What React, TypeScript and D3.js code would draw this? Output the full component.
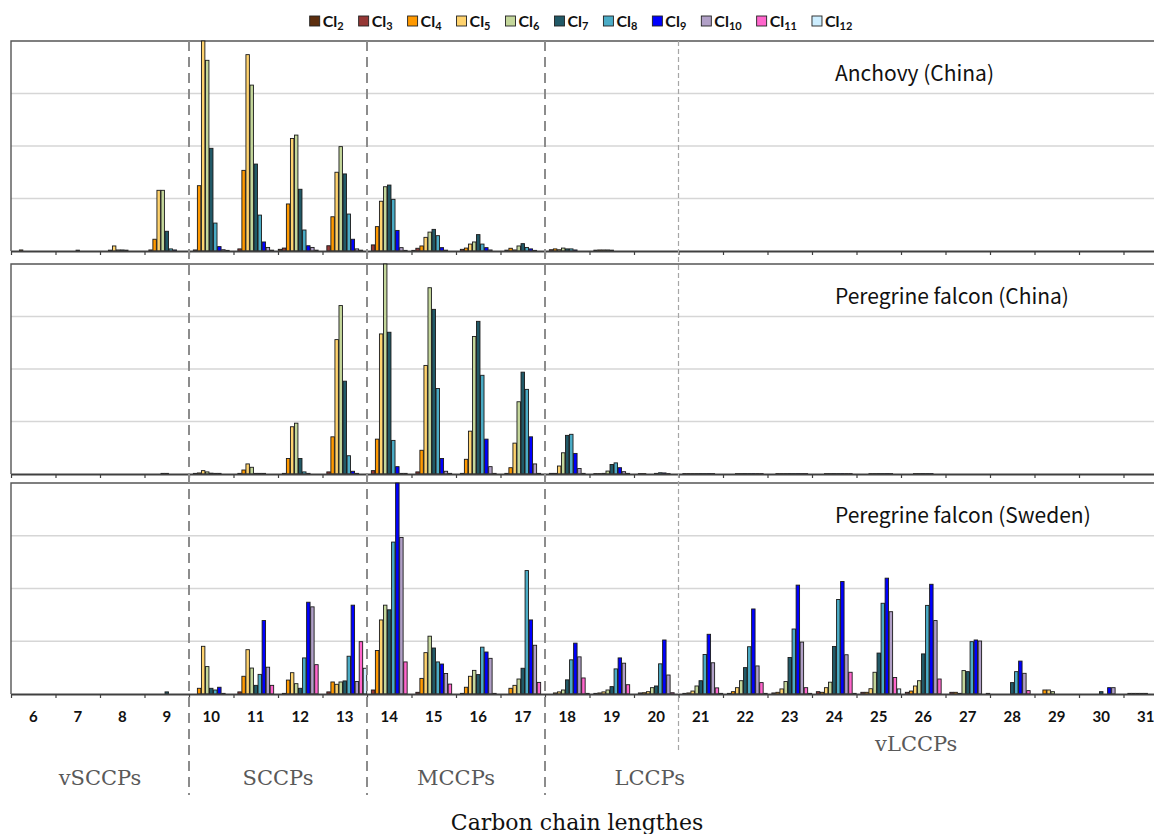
import React, { useRef, useEffect } from 'react';
import * as d3 from 'd3';

// carbon chain lengths (x categories)
const categories = ['6', '7', '8', '9', '10', '11', '12', '13', '14', '15', '16', '17', '18',
    '19', '20', '21', '22', '23', '24', '25', '26', '27', '28', '29', '30', '31'];

// chlorine homologue groups
const chlorineKeys = ['Cl2', 'Cl3', 'Cl4', 'Cl5', 'Cl6', 'Cl7', 'Cl8', 'Cl9', 'Cl10', 'Cl11', 'Cl12'];
const chlorineSubs = ['2', '3', '4', '5', '6', '7', '8', '9', '10', '11', '12'];
const chlorineColors = ['#5c2e0e', '#953735', '#ff9900', '#ffd36e', '#c4d79b', '#215967',
    '#4bacc6', '#0000ff', '#b1a0c7', '#ff66cc', '#cdeeff'];

// relative abundance (% of panel max), one row per carbon length, columns Cl2..Cl12
const anchovyChina = [
    [0, 0, 0.5, 0, 0, 0, 0, 0, 0, 0, 0],
    [0, 0, 0, 0, 0, 0.4, 0, 0, 0, 0, 0],
    [0, 0, 0.4, 2.4, 0.5, 0.5, 0.4, 0, 0, 0, 0],
    [0, 0.5, 5.6, 28.9, 28.9, 9.4, 1, 0.5, 0, 0, 0],
    [0, 0.5, 31.1, 100, 90.8, 48.9, 13.3, 2.1, 0.6, 0.3, 0],
    [0, 1, 38.4, 93.5, 79, 41.4, 17.1, 4.3, 1.7, 0.4, 0],
    [0.8, 1.4, 22.4, 53.6, 55.2, 29.4, 10, 2.5, 1.7, 0.4, 0],
    [0, 2.5, 16.3, 37.5, 49.7, 36.7, 17.6, 5.6, 1, 0.4, 0],
    [0, 2.9, 11.6, 23.7, 30.6, 31.4, 24.6, 9.8, 1.6, 0.3, 0],
    [0.3, 1.3, 2.4, 6.5, 9, 10.3, 7.3, 1.6, 0.4, 0, 0],
    [0, 0.8, 1.4, 3.3, 4.3, 7.8, 3.3, 1.6, 0.5, 0, 0],
    [0, 0.4, 1.3, 0.5, 2.4, 3.5, 1.7, 1, 0.3, 0, 0],
    [0, 0.6, 1, 0.6, 1.4, 1, 1, 0.5, 0, 0, 0],
    [0, 0.4, 0.5, 0.5, 0.5, 0.4, 0, 0, 0, 0, 0],
    [0, 0, 0, 0, 0, 0, 0, 0, 0, 0, 0],
    [0, 0, 0, 0, 0, 0, 0, 0, 0, 0, 0],
    [0, 0, 0, 0, 0, 0, 0, 0, 0, 0, 0],
    [0, 0, 0, 0, 0, 0, 0, 0, 0, 0, 0],
    [0, 0, 0, 0, 0, 0, 0, 0, 0, 0, 0],
    [0, 0, 0, 0, 0, 0, 0, 0, 0, 0, 0],
    [0, 0, 0, 0, 0, 0, 0, 0, 0, 0, 0],
    [0, 0, 0, 0, 0, 0, 0, 0, 0, 0, 0],
    [0, 0, 0, 0, 0, 0, 0, 0, 0, 0, 0],
    [0, 0, 0, 0, 0, 0, 0, 0, 0, 0, 0],
    [0, 0, 0, 0, 0, 0, 0, 0, 0, 0, 0],
    [0, 0, 0, 0, 0, 0, 0, 0, 0, 0, 0],
];

const falconChina = [
    [0, 0, 0, 0, 0, 0, 0, 0, 0, 0, 0],
    [0, 0, 0, 0, 0, 0, 0, 0, 0, 0, 0],
    [0, 0, 0, 0, 0, 0, 0, 0, 0, 0, 0],
    [0, 0, 0, 0, 0.3, 0.3, 0, 0, 0, 0, 0],
    [0, 0.3, 0.5, 1.6, 1, 0.4, 0.3, 0.3, 0, 0, 0],
    [0, 0.3, 1.9, 4.8, 3.2, 0.3, 0.3, 0.3, 0, 0, 0],
    [0, 0.3, 7.4, 22.5, 24.2, 7.4, 1, 0.3, 0, 0, 0],
    [0, 1, 17.7, 64, 80.2, 44.2, 8.7, 1.3, 0.3, 0, 0],
    [0, 1.6, 16.6, 66.7, 100, 67.5, 16, 3.5, 0.3, 0.3, 0],
    [0, 1, 11.3, 51.7, 88.7, 78.4, 40.7, 7.4, 1.3, 0.3, 0],
    [0, 0.3, 7, 20.4, 65.5, 72.7, 47, 16.6, 3.5, 0.3, 0],
    [0, 0.3, 3, 14.7, 34.4, 48.5, 40.3, 17.7, 4.8, 0.3, 0],
    [0, 0.3, 0.3, 3.8, 10.1, 18.4, 18.9, 9.8, 2.6, 0.3, 0],
    [0, 0.2, 0.2, 0.3, 1.4, 4.5, 5.3, 3, 1.1, 0.3, 0],
    [0, 0.2, 0.2, 0, 0, 0.3, 0.6, 0.5, 0.2, 0, 0],
    [0, 0.2, 0.2, 0.2, 0.2, 0.2, 0.2, 0.2, 0.2, 0, 0],
    [0, 0, 0, 0.2, 0.2, 0.2, 0.2, 0.2, 0.2, 0.2, 0],
    [0, 0, 0.2, 0.2, 0.2, 0.2, 0.2, 0.2, 0.2, 0.2, 0],
    [0, 0, 0, 0.2, 0.2, 0.2, 0.2, 0.2, 0.2, 0.2, 0],
    [0, 0, 0, 0.2, 0.2, 0.2, 0.2, 0.2, 0.2, 0, 0],
    [0, 0, 0, 0.2, 0.2, 0.2, 0.2, 0.2, 0, 0, 0],
    [0, 0, 0, 0, 0, 0, 0, 0, 0, 0, 0],
    [0, 0, 0, 0, 0, 0, 0, 0, 0, 0, 0],
    [0, 0, 0, 0, 0, 0, 0, 0, 0, 0, 0],
    [0, 0, 0, 0, 0, 0, 0, 0, 0, 0, 0],
    [0, 0, 0, 0, 0, 0, 0, 0, 0, 0, 0],
];

const falconSweden = [
    [0, 0, 0, 0, 0, 0, 0, 0, 0, 0, 0],
    [0, 0, 0, 0, 0, 0, 0, 0, 0, 0, 0],
    [0, 0, 0, 0, 0, 0, 0, 0, 0, 0, 0],
    [0, 0, 0, 0, 0, 1, 0, 0, 0, 0, 0],
    [0, 0, 2.7, 22.6, 13, 2.7, 1.9, 3.2, 0.3, 0, 0],
    [0, 1, 8.4, 21, 12.3, 4.1, 9.3, 34.8, 12.7, 4.1, 0],
    [0, 0.3, 6.6, 10.1, 4.9, 2.7, 17.1, 43.5, 41.3, 13.9, 0],
    [0, 1, 5.7, 4.6, 5.7, 6.2, 17.9, 42.1, 5.9, 24.8, 12.2],
    [0, 1.9, 20.6, 35.1, 42.1, 39.9, 72, 100, 74.2, 15.2, 0],
    [0, 0.8, 7.4, 19.6, 27.4, 21.8, 15.2, 14.2, 9.7, 4.7, 0],
    [0, 0.3, 3.2, 8.4, 11.2, 9.2, 22.2, 19.9, 16.9, 0.3, 0],
    [0, 0, 2.7, 4.1, 7.1, 12.2, 58.5, 35.1, 23.1, 5.5, 0],
    [0, 0, 0.5, 1, 1.9, 6.7, 16.2, 24.1, 17.6, 7.6, 0.3],
    [0, 0.3, 0.5, 1, 1.9, 3.5, 11.9, 17.1, 14.6, 4.4, 0],
    [0, 0.5, 0.6, 1.1, 3, 3.8, 14.3, 25.6, 9, 0.6, 0],
    [0, 0.3, 0.5, 1.4, 3.8, 6.3, 18.7, 28.3, 14.8, 2.9, 0.3],
    [0, 0.3, 1.1, 3, 6.3, 12.5, 22.4, 40.3, 13.3, 5.4, 0.3],
    [0, 0.5, 0.8, 2.4, 5.9, 17.3, 30.8, 51.6, 24.6, 3, 0.3],
    [0, 1.1, 0.8, 3, 5.6, 22.5, 44.8, 53.3, 18.6, 10.3, 0.3],
    [0, 0.8, 0.8, 2.5, 10.3, 19.4, 43, 54.9, 39, 7.8, 2.4],
    [0, 0.8, 1.4, 3.8, 6.3, 19, 42, 52, 34.8, 7.1, 0],
    [0, 0.8, 0.8, 0.3, 11.1, 10.6, 24.8, 25.6, 25.1, 0, 0.3],
    [0, 0, 0, 0, 0, 5.4, 10.6, 15.6, 9.8, 1.6, 0],
    [0, 0, 1.9, 1.9, 1.1, 0, 0, 0, 0, 0, 0],
    [0, 0, 0, 0, 0, 1.1, 0, 3, 3, 0, 0],
    [0, 0.3, 0.3, 0.3, 0.3, 0.3, 0, 0, 0, 0, 0],
];

const panelTitles = ['Anchovy (China)', 'Peregrine falcon (China)', 'Peregrine falcon (Sweden)'];

// chain length classes: label, first and last carbon number
const groupNames = ['vSCCPs', 'SCCPs', 'MCCPs', 'LCCPs', 'vLCCPs'];
const groupFirst = ['6', '10', '14', '18', '21'];
const groupLast = ['9', '13', '17', '20', '31'];

const gridValues = [25, 50, 75];

const App = () => {
    const svgRef = useRef(null);

    const totalWidth = 1154;
    const totalHeight = 834;
    const left = 11;
    const catWidth = 44.5;

    useEffect(() => {
        const svg = d3.select(svgRef.current);
        svg.selectAll('*').remove();

        const x = d3.scaleBand()
            .domain(categories)
            .range([left, left + categories.length * catWidth])
            .padding(0);
        const xIndex = d3.scaleLinear()
            .domain([0, categories.length])
            .range(x.range());
        const xSub = d3.scaleBand()
            .domain(chlorineKeys)
            .range([0, x.bandwidth()])
            .padding(0);
        const color = d3.scaleOrdinal().domain(chlorineKeys).range(chlorineColors);

        const panels = [
            { title: panelTitles[0], data: anchovyChina, top: 41, bottom: 251 },
            { title: panelTitles[1], data: falconChina, top: 264, bottom: 474 },
            { title: panelTitles[2], data: falconSweden, top: 483, bottom: 694 },
        ];

        panels.forEach((p, pi) => {
            const y = d3.scaleLinear().domain([0, 100]).range([p.bottom, p.top]);
            const g = svg.append('g').attr('class', 'panel');

            g.selectAll('.grid')
                .data(gridValues)
                .enter()
                .append('line')
                .attr('class', 'grid')
                .attr('x1', left)
                .attr('x2', totalWidth)
                .attr('y1', d => y(d))
                .attr('y2', d => y(d))
                .attr('stroke', '#d6d6d6')
                .attr('stroke-width', 1.5);

            // plot-area frame (top + left)
            g.append('path')
                .attr('d', `M${totalWidth},${y(100)}H${left}V${y(0)}`)
                .attr('fill', 'none')
                .attr('stroke', '#555')
                .attr('stroke-width', 1.4);

            const rows = categories.map((c, i) => ({ cat: c, values: p.data[i] }));

            const catGroup = g.selectAll('.cat')
                .data(rows)
                .enter()
                .append('g')
                .attr('class', 'cat')
                .attr('transform', d => `translate(${x(d.cat)},0)`);

            catGroup.selectAll('rect')
                .data(d => chlorineKeys
                    .map((k, j) => ({ key: k, value: d.values[j] }))
                    .filter(v => v.value > 0))
                .enter()
                .append('rect')
                .attr('x', d => xSub(d.key) + 0.3)
                .attr('width', xSub.bandwidth() - 0.6)
                .attr('y', d => y(d.value))
                .attr('height', d => y(0) - y(d.value))
                .attr('fill', d => color(d.key))
                .attr('stroke', '#1a1a1a')
                .attr('stroke-width', 0.9);

            const axis = g.append('g')
                .attr('transform', `translate(0,${y(0)})`)
                .call(d3.axisBottom(xIndex)
                    .tickValues(d3.range(categories.length + 1))
                    .tickSize(4)
                    .tickSizeOuter(0)
                    .tickFormat(() => ''));
            axis.select('.domain').attr('stroke', '#404040').attr('stroke-width', 2);
            axis.selectAll('.tick line').attr('stroke', '#404040').attr('stroke-width', 1.2);

            if (pi === panels.length - 1) {
                const labels = g.append('g')
                    .attr('transform', `translate(0,${y(0)})`)
                    .call(d3.axisBottom(x).tickSize(0).tickPadding(17));
                labels.select('.domain').remove();
                labels.selectAll('text')
                    .style('font-family', 'Lato, "Liberation Sans", sans-serif')
                    .style('font-weight', 'bold')
                    .style('font-size', '15px')
                    .attr('fill', '#111');
            }

            g.append('text')
                .attr('x', 835)
                .attr('y', p.top + 40)
                .style('font-family', '"Noto Sans CJK JP", "Noto Sans", sans-serif')
                .style('font-size', '21px')
                .attr('fill', '#111')
                .text(p.title);
        });

        // chain-length class dividers
        const dividers = groupFirst.slice(1).map((c, i) => ({ cat: c, main: i < 3 }));
        svg.selectAll('.divider')
            .data(dividers)
            .enter()
            .append('line')
            .attr('class', 'divider')
            .attr('x1', d => x(d.cat))
            .attr('x2', d => x(d.cat))
            .attr('y1', 41)
            .attr('y2', d => d.main ? 795 : 752)
            .attr('stroke', d => d.main ? '#8c8c8c' : '#a6a6a6')
            .attr('stroke-width', d => d.main ? 2 : 1.2)
            .attr('stroke-dasharray', d => d.main ? '10,6' : '5,3');

        const groups = groupNames.map((name, i) => ({
            name,
            cx: (x(groupFirst[i]) + x(groupLast[i]) + x.bandwidth()) / 2,
            last: i === groupNames.length - 1,
        }));
        svg.selectAll('.group-label')
            .data(groups)
            .enter()
            .append('text')
            .attr('class', 'group-label')
            .attr('x', d => d.name === 'LCCPs' ? d.cx + 38 : d.cx - (d.last ? 7 : 0))
            .attr('y', d => d.last ? 751 : 785)
            .attr('text-anchor', 'middle')
            .style('font-family', '"DejaVu Serif", serif')
            .style('font-size', '21px')
            .attr('fill', '#595959')
            .text(d => d.name);

        svg.append('text')
            .attr('x', 577)
            .attr('y', 830)
            .attr('text-anchor', 'middle')
            .style('font-family', '"DejaVu Serif", serif')
            .style('font-size', '22px')
            .attr('fill', '#111')
            .text('Carbon chain lengthes');

        // legend
        const legend = svg.append('g').attr('class', 'legend');
        let lx = 0;
        const gap = 15;
        chlorineKeys.forEach((k, i) => {
            const item = legend.append('g').attr('transform', `translate(${lx},0)`);
            item.append('rect')
                .attr('x', 0)
                .attr('y', -5)
                .attr('width', 10)
                .attr('height', 10)
                .attr('fill', color(k))
                .attr('stroke', '#222')
                .attr('stroke-width', 0.9);
            const t = item.append('text')
                .attr('x', 13)
                .attr('y', 5.5)
                .style('font-family', 'Lato, "Liberation Sans", sans-serif')
                .style('font-weight', 'bold')
                .style('font-size', '16px')
                .attr('fill', '#111');
            t.append('tspan').text('Cl');
            t.append('tspan').attr('dy', 3).style('font-size', '11px').text(chlorineSubs[i]);
            lx += 13 + t.node().getComputedTextLength() + gap;
        });
        const legendWidth = lx - gap;
        legend.attr('transform', `translate(${581 - legendWidth / 2},21)`);
    }, []);

    return (
        <svg
            ref={svgRef}
            width={totalWidth}
            height={totalHeight}
            style={{ position: 'absolute', left: 0, top: 0, background: '#fff', display: 'block' }}
        ></svg>
    );
};

export default App;
